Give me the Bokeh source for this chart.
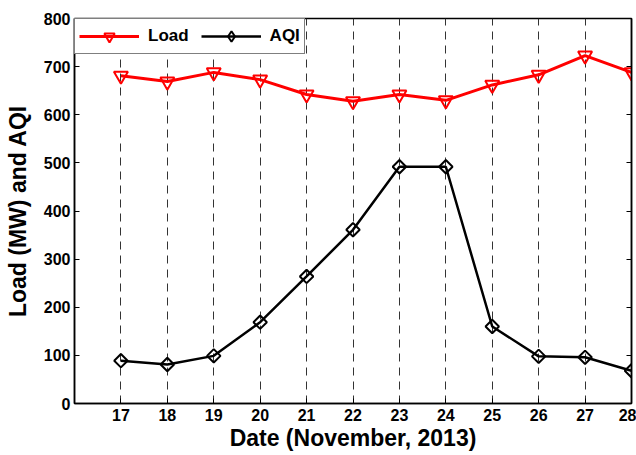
from bokeh.plotting import figure
from bokeh.models import LinearAxis, Range1d, FixedTicker, Legend, LegendItem, CustomLabelingPolicy
from bokeh.embed import file_html
from bokeh.resources import INLINE

dates = [17, 18, 19, 20, 21, 22, 23, 24, 25, 26, 27, 28]
load = [681, 669, 688, 673, 642, 628, 642, 630, 662, 683, 723, 688]
aqi = [89, 81, 99, 169, 264, 361, 492, 492, 160, 98, 96, 68]
y_ticks = [0, 100, 200, 300, 400, 500, 600, 700, 800]

FONT = "Liberation Sans"

p = figure(width=636, height=455, output_backend="svg", toolbar_location=None,
           x_range=Range1d(16, 28), y_range=Range1d(0, 800),
           min_border_left=74, min_border_right=3, min_border_top=18, min_border_bottom=52,
           background_fill_color="white", border_fill_color="white")

p.outline_line_color = "black"
p.outline_line_width = 1.5

# grid
p.ygrid.visible = False
p.xgrid.grid_line_color = "#333333"
p.xgrid.grid_line_width = 1
p.xgrid.grid_line_dash = "8 6"

for ax in (p.xaxis[0], p.yaxis[0]):
    ax.axis_line_color = "black"
    ax.axis_line_width = 1.5
    ax.major_tick_line_color = "black"
    ax.major_tick_line_width = 1
    ax.major_tick_in = 5
    ax.major_tick_out = 0
    ax.minor_tick_line_color = None
    ax.major_label_text_font = FONT
    ax.major_label_text_font_style = "bold"
    ax.major_label_text_font_size = "16px"
    ax.major_label_text_color = "black"
    ax.axis_label_text_font = FONT
    ax.axis_label_text_font_style = "bold"
    ax.axis_label_text_font_size = "23px"
    ax.axis_label_text_color = "black"

p.xaxis[0].ticker = FixedTicker(ticks=dates)
p.yaxis[0].ticker = FixedTicker(ticks=y_ticks)
p.xaxis[0].axis_label = "Date (November, 2013)"
p.yaxis[0].axis_label = "Load (MW) and AQI"
p.xaxis[0].major_label_standoff = 5
p.xaxis[0].axis_label_standoff = 1
p.yaxis[0].major_label_standoff = 4
p.yaxis[0].axis_label_standoff = 10

right = LinearAxis(ticker=FixedTicker(ticks=y_ticks))
right.major_label_policy = CustomLabelingPolicy(code="for (const i of indices) indices.unset(i)")
right.major_label_text_font_size = "1px"
right.major_label_standoff = 0
right.major_tick_in = 5
right.major_tick_out = 0
right.minor_tick_line_color = None
right.axis_line_color = "black"
right.axis_line_width = 1.5
p.add_layout(right, "right")

# series
l1 = p.line(dates, load, line_color="red", line_width=3)
s1 = p.scatter(dates, load, marker="inverted_triangle", size=14, line_color="red",
               line_width=2, fill_color=None)
l2 = p.line(dates, aqi, line_color="black", line_width=2.5)
s2 = p.scatter(dates, aqi, marker="square", angle=0.7854, size=9.5, line_color="black",
               line_width=2, fill_color=None)
# legend proxy (NaN point, not drawn in the plot) so that the legend shows a diamond
nan = float("nan")
s2_leg = p.scatter(x=[nan], y=[nan], marker="diamond", size=14, line_color="black",
                   line_width=2, fill_color=None)

legend = Legend(items=[LegendItem(label="Load", renderers=[l1, s1]),
                       LegendItem(label="AQI", renderers=[l2, s2_leg])],
                orientation="horizontal", location="top_left", margin=0,
                padding=4, spacing=12, glyph_width=60, glyph_height=26,
                label_standoff=9, border_line_color="black", border_line_width=1.5,
                background_fill_color="white", background_fill_alpha=1,
                label_text_font=FONT, label_text_font_style="bold",
                label_text_font_size="17px", label_text_color="black")
p.add_layout(legend)

open("out.html", "w").write(file_html(p, INLINE))
